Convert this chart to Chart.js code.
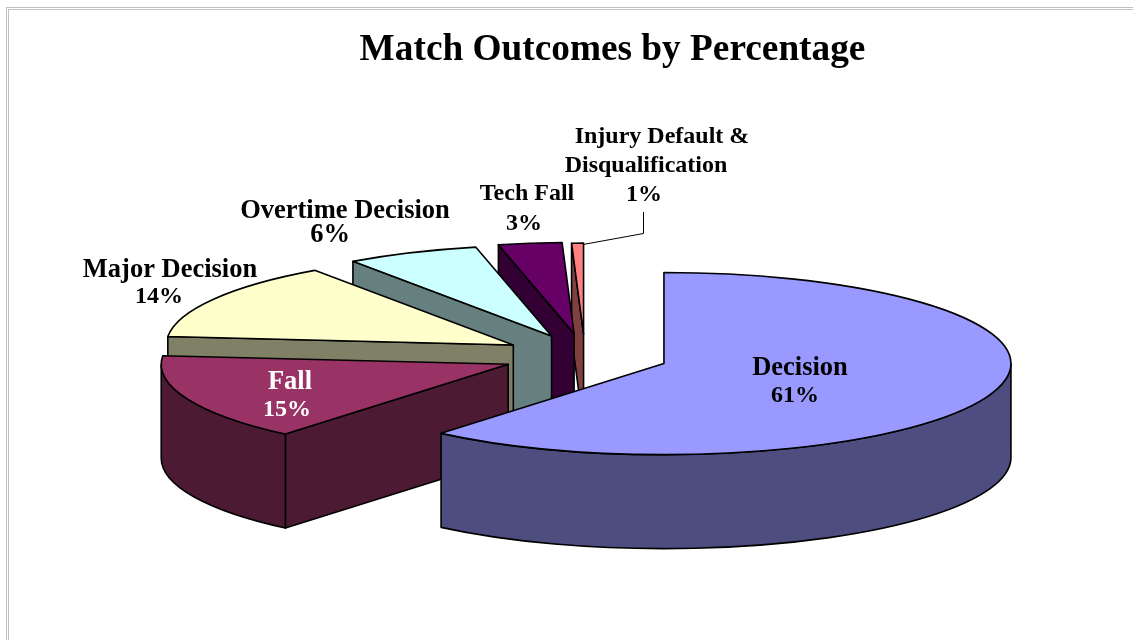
<!DOCTYPE html>
<html>
<head>
<meta charset="utf-8">
<title>Match Outcomes by Percentage</title>
<script src="https://cdn.jsdelivr.net/npm/chart.js@4"></script>
<style>
    html, body { margin: 0; padding: 0; background: #fff; overflow: hidden; }
    .frame { position: absolute; border: 1px solid #c0c0c0; border-right: none; border-bottom: none; width: 1200px; height: 700px; }
    #outer { left: 6px; top: 7px; }
    #inner { left: 8px; top: 9px; }
    canvas { position: absolute; left: 0; top: 0; }
</style>
</head>
<body>
<div class="frame" id="outer"></div>
<div class="frame" id="inner"></div>
<canvas id="myChart" width="1133" height="640"></canvas>
<script>
const categories = ['Decision', 'Fall', 'Major Decision', 'Overtime Decision', 'Tech Fall', 'Injury Default &\nDisqualification'];
const outcomeShares = [61.1, 15.4, 13.8, 6.2, 2.95, 0.55];
const topColors = ['#9999FF', '#993366', '#FFFFCC', '#CCFFFF', '#660066', '#FF8080'];
const wallColors = ['#4D4D80', '#4D1A33', '#808066', '#668080', '#330033', '#804040'];
const explode = [84, 83, 83, 83, 86, 83];

// where each label sits: x centre of every line, first baseline, name size, percent size, line gap, colour
const labelStyles = [
    { x: [800, 795], y: 375, size: 26.5, pct: 24, gap: 27, color: '#000' },
    { x: [290, 287], y: 389, size: 26.5, pct: 24, gap: 27, color: '#fff' },
    { x: [170, 159], y: 277, size: 26.5, pct: 24, gap: 26, color: '#000' },
    { x: [345, 330], y: 218, size: 26.5, pct: 26.5, gap: 24, color: '#000' },
    { x: [527, 524], y: 200, size: 24, pct: 24, gap: 30, color: '#000' },
    { x: [662, 646, 644], y: 143, size: 24, pct: 24, gap: 29, color: '#000' }
];

const TILT = 0.2625;
const DEPTH = 94;
const PIE_X = 585;
const PIE_Y = 356;

function sliceCentre(arc, i) {
    const mid = (arc.startAngle + arc.endAngle) / 2;
    return {
        x: PIE_X + Math.cos(mid) * explode[i],
        y: PIE_Y + Math.sin(mid) * explode[i] * TILT
    };
}

function paint(ctx, fill) {
    ctx.fillStyle = fill;
    ctx.fill();
    ctx.stroke();
}

function radialFace(ctx, c, r, angle, fill) {
    const x = c.x + Math.cos(angle) * r;
    const y = c.y + Math.sin(angle) * r * TILT;
    ctx.beginPath();
    ctx.moveTo(c.x, c.y);
    ctx.lineTo(x, y);
    ctx.lineTo(x, y + DEPTH);
    ctx.lineTo(c.x, c.y + DEPTH);
    ctx.closePath();
    paint(ctx, fill);
}

// side walls come from the arc's own angles and radius, tilted and pushed down
function drawWalls(ctx, arc, c, i) {
    const r = arc.outerRadius;
    if (-Math.cos(arc.startAngle) > 0) radialFace(ctx, c, r, arc.startAngle, wallColors[i]);
    if (Math.cos(arc.endAngle) > 0) radialFace(ctx, c, r, arc.endAngle, wallColors[i]);

    const lo = Math.max(arc.startAngle, 0);
    const hi = Math.min(arc.endAngle, Math.PI);
    if (hi > lo) {
        ctx.beginPath();
        ctx.ellipse(c.x, c.y, r, r * TILT, 0, lo, hi);
        ctx.ellipse(c.x, c.y + DEPTH, r, r * TILT, 0, hi, lo, true);
        ctx.closePath();
        paint(ctx, wallColors[i]);
    }
}

function drawTop(ctx, arc, c) {
    ctx.save();
    ctx.translate(c.x, c.y);
    ctx.scale(1, TILT);
    ctx.translate(-arc.x, -arc.y);
    arc.draw(ctx);
    ctx.restore();

    ctx.beginPath();
    ctx.moveTo(c.x, c.y);
    ctx.ellipse(c.x, c.y, arc.outerRadius, arc.outerRadius * TILT, 0, arc.startAngle, arc.endAngle);
    ctx.closePath();
    ctx.stroke();
}

const pie3d = {
    id: 'pie3d',
    beforeDatasetDraw(chart, args) {
        const ctx = chart.ctx;
        const arcs = args.meta.data;
        ctx.save();
        ctx.lineWidth = 1.6;
        ctx.strokeStyle = '#000';
        ctx.lineJoin = 'round';
        for (let i = arcs.length - 1; i >= 0; i--) {
            const c = sliceCentre(arcs[i], i);
            drawWalls(ctx, arcs[i], c, i);
            drawTop(ctx, arcs[i], c);
        }
        ctx.restore();
        return false;
    },
    afterDatasetsDraw(chart) {
        const ctx = chart.ctx;
        const total = outcomeShares.reduce((a, b) => a + b, 0);
        ctx.save();

        // leader line for the smallest slice
        ctx.strokeStyle = '#000';
        ctx.lineWidth = 1;
        ctx.beginPath();
        ctx.moveTo(583, 244.5);
        ctx.lineTo(643.5, 233.5);
        ctx.lineTo(643.5, 212);
        ctx.stroke();

        ctx.textAlign = 'center';
        ctx.textBaseline = 'alphabetic';
        categories.forEach((name, i) => {
            const s = labelStyles[i];
            const lines = name.split('\n');
            lines.forEach((line, n) => {
                ctx.font = `bold ${s.size}px "Liberation Serif"`;
                ctx.fillStyle = s.color;
                ctx.fillText(line, s.x[n], s.y + n * s.gap);
            });
            ctx.font = `bold ${s.pct}px "Liberation Serif"`;
            const pctText = Math.round(outcomeShares[i] / total * 100) + '%';
            ctx.fillText(pctText, s.x[lines.length], s.y + lines.length * s.gap);
        });
        ctx.restore();
    }
};

const myChart = new Chart(document.getElementById('myChart').getContext('2d'), {
    type: 'pie',
    data: {
        labels: categories,
        datasets: [{
            data: outcomeShares,
            backgroundColor: topColors,
            borderWidth: 0
        }]
    },
    options: {
        responsive: false,
        animation: false,
        events: [],
        radius: 347,
        layout: { padding: { left: 92, top: 28 } },
        plugins: {
            legend: { display: false },
            tooltip: { enabled: false },
            title: {
                display: true,
                text: 'Match Outcomes by Percentage',
                color: '#000',
                font: { family: '"Liberation Serif"', size: 37.3, weight: 'bold' },
                padding: 0
            }
        }
    },
    plugins: [pie3d]
});
</script>
</body>
</html>
